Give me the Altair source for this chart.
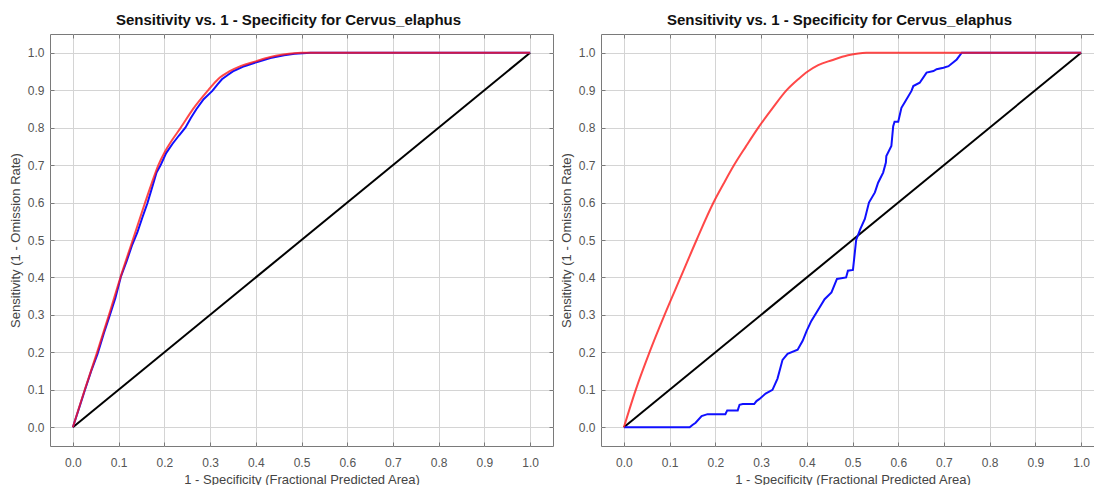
import altair as alt
import pandas as pd

TITLE = "Sensitivity vs. 1 - Specificity for Cervus_elaphus"
X_TITLE = "1 - Specificity  (Fractional Predicted Area)"
Y_TITLE = "Sensitivity  (1 - Omission Rate)"
tick_values = [0.0, 0.1, 0.2, 0.3, 0.4, 0.5, 0.6, 0.7, 0.8, 0.9, 1.0]

# random-prediction reference line
random_x = [0.0, 1.0]
random_y = [0.0, 1.0]

# left panel: training (red) and test (blue) ROC curves
left_train_x = [0.000, 0.026, 0.053, 0.079, 0.104, 0.131, 0.158, 0.172, 0.187, 0.201,
                0.216, 0.236, 0.263, 0.296, 0.318, 0.342, 0.368, 0.400, 0.430, 0.460,
                0.500, 1.000]
left_train_y = [0.000, 0.100, 0.200, 0.300, 0.400, 0.500, 0.600, 0.650, 0.700, 0.735,
                0.765, 0.800, 0.850, 0.900, 0.930, 0.950, 0.965, 0.977, 0.988, 0.995,
                1.000, 1.000]

left_test_x = [0.000, 0.012, 0.026, 0.040, 0.054, 0.068, 0.080, 0.093, 0.105, 0.118,
               0.130, 0.141, 0.152, 0.163, 0.172, 0.183, 0.192, 0.204, 0.218, 0.232,
               0.246, 0.258, 0.270, 0.286, 0.305, 0.316, 0.326, 0.338, 0.350, 0.375,
               0.405, 0.432, 0.462, 0.485, 0.520, 1.000]
left_test_y = [0.000, 0.045, 0.098, 0.150, 0.196, 0.252, 0.296, 0.345, 0.402, 0.445,
               0.488, 0.520, 0.560, 0.598, 0.635, 0.680, 0.700, 0.732, 0.757, 0.779,
               0.800, 0.826, 0.849, 0.876, 0.898, 0.915, 0.929, 0.940, 0.950, 0.964,
               0.976, 0.986, 0.993, 0.997, 1.000, 1.000]

# right panel: training (red) and test (blue) ROC curves
right_train_x = [0.000, 0.026, 0.056, 0.089, 0.124, 0.159, 0.196, 0.218, 0.241, 0.267,
                 0.294, 0.324, 0.356, 0.382, 0.402, 0.425, 0.455, 0.490, 0.530, 1.000]
right_train_y = [0.000, 0.100, 0.200, 0.300, 0.400, 0.500, 0.600, 0.650, 0.700, 0.750,
                 0.800, 0.850, 0.900, 0.930, 0.950, 0.967, 0.980, 0.993, 1.000, 1.000]

right_test_x = [0.000, 0.144, 0.150, 0.157, 0.170, 0.183, 0.222, 0.226, 0.249, 0.253,
                0.260, 0.285, 0.290, 0.296, 0.310, 0.325, 0.336, 0.347, 0.358, 0.380,
                0.391, 0.400, 0.410, 0.428, 0.439, 0.454, 0.466, 0.486, 0.490, 0.501,
                0.508, 0.517, 0.527, 0.536, 0.549, 0.556, 0.567, 0.573, 0.574, 0.585,
                0.589, 0.592, 0.600, 0.607, 0.614, 0.629, 0.633, 0.647, 0.662, 0.677,
                0.684, 0.699, 0.710, 0.728, 0.739, 1.000]
right_test_y = [0.000, 0.000, 0.006, 0.012, 0.030, 0.035, 0.035, 0.045, 0.045, 0.060,
                0.062, 0.062, 0.070, 0.075, 0.090, 0.100, 0.130, 0.180, 0.196, 0.207,
                0.231, 0.258, 0.284, 0.320, 0.342, 0.360, 0.396, 0.400, 0.418, 0.420,
                0.500, 0.529, 0.556, 0.600, 0.627, 0.653, 0.680, 0.707, 0.724, 0.751,
                0.804, 0.816, 0.816, 0.853, 0.867, 0.898, 0.911, 0.920, 0.947, 0.951,
                0.956, 0.960, 0.964, 0.982, 1.000, 1.000]

DOMAIN = [-0.05, 1.05]
FRAME = "#7a7a7a"
FONT = "Liberation Sans"


def curve(xs, ys):
    assert len(xs) == len(ys)
    return pd.DataFrame({"x": xs, "y": ys, "i": list(range(len(xs)))})


def scale():
    return alt.Scale(domain=DOMAIN, nice=False, zero=False)


def main_axis(orient):
    return alt.Axis(orient=orient, values=tick_values, format=".1f", grid=True,
                    ticks=False, tickSize=0, domain=False,
                    labelPadding=11 if orient == "bottom" else 6,
                    titlePadding=5)


def tick_axis(orient):
    # short inward ticks drawn along each edge of the frame
    return alt.Axis(orient=orient, values=tick_values, grid=False, labels=False,
                    domain=False, ticks=True, tickSize=4, tickColor=FRAME,
                    tickWidth=1, offset=-4, title="")


def panel(train_x, train_y, test_x, test_y):
    random_line = alt.Chart(curve(random_x, random_y)).mark_line(
        color="#000000", strokeWidth=2
    ).encode(
        x=alt.X("x:Q", scale=scale(), axis=main_axis("bottom"), title=X_TITLE),
        y=alt.Y("y:Q", scale=scale(), axis=main_axis("left"), title=Y_TITLE),
        order="i:Q",
    )
    test_line = alt.Chart(curve(test_x, test_y)).mark_line(
        color="#1010ff", strokeWidth=2
    ).encode(
        x=alt.X("x:Q", scale=scale(), axis=tick_axis("top")),
        y=alt.Y("y:Q", scale=scale(), axis=tick_axis("right")),
        order="i:Q",
    )
    train_line = alt.Chart(curve(train_x, train_y)).mark_line(
        color="#ff1a1a", strokeWidth=2, opacity=0.8, interpolate="monotone"
    ).encode(
        x=alt.X("x:Q", scale=scale(), axis=tick_axis("bottom")),
        y=alt.Y("y:Q", scale=scale(), axis=tick_axis("left")),
        order="i:Q",
    )
    return alt.layer(random_line, test_line, train_line).resolve_axis(
        x="independent", y="independent"
    ).properties(
        width=503, height=412,
        title=alt.TitleParams(TITLE, dx=-13),
    )


chart = alt.hconcat(
    panel(left_train_x, left_train_y, left_test_x, left_test_y),
    panel(right_train_x, right_train_y, right_test_x, right_test_y),
    spacing=5,
).properties(
    padding={"left": 8, "top": 12, "right": -11, "bottom": 0},
    background="#ffffff",
).configure_view(
    stroke=FRAME, strokeWidth=1,
).configure_title(
    font=FONT, fontSize=15, fontWeight="bold", color="#111111", offset=6, anchor="middle",
).configure_axis(
    labelFont=FONT, labelFontSize=12, labelColor="#555555",
    titleFont=FONT, titleFontSize=13, titleColor="#444444", titleFontWeight="normal",
    gridColor="#d4d4d4", gridWidth=1,
)

chart.save("out.html", embed_options={"renderer": "svg", "actions": False})
